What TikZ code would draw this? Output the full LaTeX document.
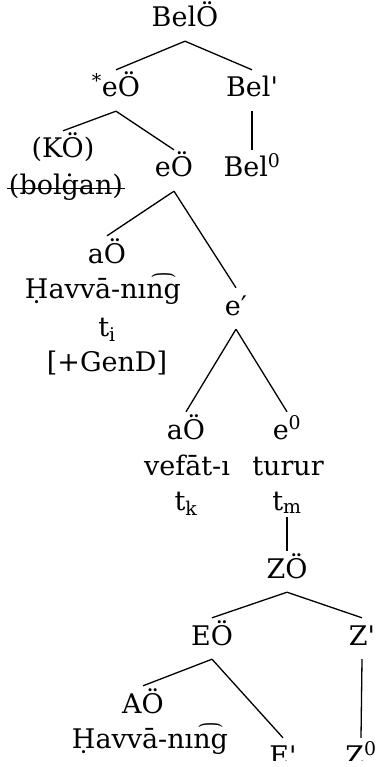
\documentclass[tikz,border=0pt]{standalone}
\usepackage{fontspec}
\setmainfont{DejaVu Serif}
\usetikzlibrary{positioning}

\begin{document}
\begin{tikzpicture}[
    x=1pt, y=-1pt,
    every node/.style={font=\fontsize{27}{32}\selectfont, inner sep=0pt},
    cat/.style={anchor=base, text height=27pt, text depth=14pt},
    word/.style={anchor=base, text height=20pt, text depth=7pt},
    branch/.style={line width=1.3pt, draw=black}
]
\useasboundingbox (0,0) rectangle (378,767);
\clip (0,0) rectangle (378,760);

% 1. Upper part
\node[cat] (belo) at (185,27) {BelÖ};
\node[cat] (eoa) at (116,97) {\textsuperscript{*}eÖ};
\node[cat] (belbar) at (252,97) {Bel\textquotesingle};
\node[cat] (ko) at (63,158) {(KÖ)};
\node[word] (bolgan) at (66,195) {(bolġan)};
\node[cat] (eob) at (174,177) {eÖ};
\node[cat] (belzero) at (252,177) {Bel\textsuperscript{0}};

% 2. Genitive subject and e'
\node[cat] (aoa) at (107,263) {aÖ};
\node[word] (havvaa) at (103,298) {Ḥavvā-nın͡g};
\node[word] (ti) at (107,336) {t\textsubscript{i}};
\node[word] (gend) at (107,371) {[+GenD]};
\node[cat] (ebar) at (236,315) {e′};

% 3. Lower branches
\node[cat] (aob) at (186,439) {aÖ};
\node[cat] (ezero) at (287,439) {e\textsuperscript{0}};
\node[word] (vefat) at (187,475) {vefāt-ı};
\node[word] (turur) at (288,475) {turur};
\node[word] (tk) at (186,510) {t\textsubscript{k}};
\node[word] (tm) at (287,510) {t\textsubscript{m}};

% 4. Embedded tree
\node[cat] (zo) at (287,578) {ZÖ};
\node[cat] (eoc) at (212,645) {EÖ};
\node[cat] (zbar) at (362,645) {Z\textquotesingle};
\node[cat] (aoc) at (143,713) {AÖ};
\node[word] (havvab) at (150,748) {Ḥavvā-nın͡g};
\node[cat] (ebarb) at (283,765) {E\textquotesingle};
\node[cat] (zzero) at (361,765) {Z\textsuperscript{0}};

% 5. Branches
\draw[branch] (belo.south) -- (eoa.north);
\draw[branch] (belo.south) -- (belbar.north);
\draw[branch] (eoa.south) -- (ko.north);
\draw[branch] (eoa.south) -- (eob.north);
\draw[branch] (belbar.south) -- (belzero.north);
\draw[branch] (eob.south) -- (aoa.north);
\draw[branch] (eob.south) -- (ebar.north);
\draw[branch] (ebar.south) -- (aob.north);
\draw[branch] (ebar.south) -- (ezero.north);
\draw[branch] (tm.south) -- (zo.north);
\draw[branch] (zo.south) -- (eoc.north);
\draw[branch] (zo.south) -- (zbar.north);
\draw[branch] (eoc.south) -- (aoc.north);
\draw[branch] (eoc.south) -- (ebarb.north);
\draw[branch] (zbar.south) -- (zzero.north);

% strike through
\draw[line width=0.9pt] ([xshift=-2pt,yshift=7pt]bolgan.base west) -- ([xshift=2pt,yshift=7pt]bolgan.base east);

\end{tikzpicture}
\end{document}
